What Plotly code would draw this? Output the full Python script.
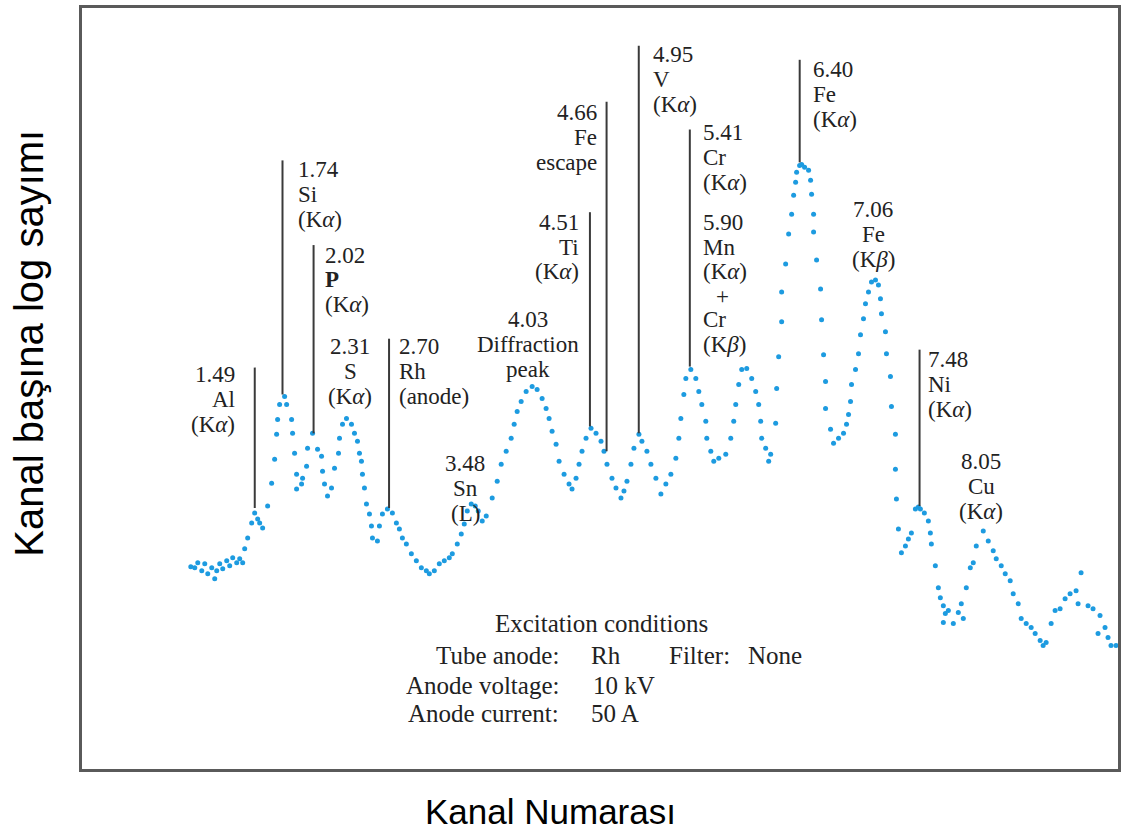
import plotly.graph_objects as go

# ---- spectrum: channel number vs relative log counts per channel ----
channel = [109,113,116,120,123,126,130,133,135,138,141,145,148,151,155,158,161,163,166,170,
           173,176,178,181,186,190,193,195,196,198,203,205,210,211,213,215,215,220,221,225,
           226,231,236,240,241,243,246,250,253,257,258,261,265,270,273,276,278,280,281,283,
           285,288,290,291,296,298,301,306,311,315,318,321,325,330,335,340,345,348,353,358,
           363,368,371,376,380,383,386,390,394,397,401,405,411,416,420,425,430,433,436,440,
           445,451,456,461,465,468,471,475,478,483,488,491,495,498,501,505,510,515,520,523,
           526,531,535,540,543,546,550,553,558,561,566,570,575,580,585,590,595,598,600,603,
           605,610,615,618,621,625,626,630,633,638,645,650,653,655,658,661,666,671,675,678,
           680,681,685,688,690,695,
           696,698,701,701,705,708,711,713,715,716,719,721,724,728,730,731,733,733,736,740,
           741,743,745,745,750,753,758,763,766,768,770,771,775,778,780,783,785,788,791,795,
           798,800,801,805,806,810,811,815,815,
           816,818,821,825,828,831,835,838,840,844,848,850,851,855,858,860,863,865,863,868,
           873,878,883,881,886,890,893,896,903,908,913,916,921,925,930,933,938,941,946,951,
           955,960,963,966,971,975,980,985,990,996,1001,998,1008,1013,1020,1018,1025,1028,1031,1036]
log_count = [203,202,207,199,206,196,202,191,199,206,201,209,204,212,207,211,207,221,232,247,
             257,251,247,242,264,287,311,336,351,366,374,366,351,337,317,296,281,286,292,304,
             322,337,321,314,299,286,274,282,302,317,332,346,352,346,337,329,317,309,296,282,
             266,256,244,232,229,244,256,261,257,247,241,232,226,216,209,202,199,196,199,206,
             209,212,216,226,236,246,259,266,264,259,249,254,272,289,306,319,332,346,359,369,
             379,384,381,372,362,352,339,326,309,296,286,281,292,306,319,332,342,337,329,319,
             306,292,282,272,279,289,306,322,336,329,319,306,292,276,286,296,312,332,352,376,
             392,401,392,379,366,349,332,319,309,312,316,332,349,366,386,401,402,392,379,366,
             349,332,322,309,316,347,
             382,414,449,479,507,537,557,576,589,599,606,607,604,601,591,577,557,539,511,482,
             451,416,389,362,341,327,332,337,346,356,369,386,401,417,436,452,467,479,489,491,
             486,472,457,439,417,394,364,336,301,
             271,241,217,224,231,237,261,263,261,257,249,237,226,204,182,172,164,156,147,159,
             146,157,151,166,182,202,207,224,239,229,219,211,204,196,189,176,166,151,146,142,
             136,129,124,127,146,159,161,171,176,179,197,166,164,161,154,136,142,132,124,124]

# ---- marked emission lines (keV) and the extent of their marker lines (log-count units) ----
line_energy = [1.49, 1.74, 2.02, 2.70, 4.51, 4.66, 4.95, 5.41, 6.40, 7.48]
line_top    = [403, 611, 526, 432, 559, 670, 726, 642, 712, 421]
line_bottom = [262, 376, 337, 262, 344, 319, 337, 404, 609, 264]

# energy calibration: channel = offset + gain * E
CAL_OFFSET, CAL_GAIN = 7.4, 111.2

KA = "(K<i>α</i>)"
KB = "(K<i>β</i>)"
# label text blocks: (lines, x channel, first line y, alignment)
labels = [
    (["1.49", "Al", KA], 155, 396, "right"),
    (["1.74", "Si", KA], 214, 602, "left"),
    (["2.02", "<b>P</b>", KA], 241, 516, "left"),
    (["2.31", "S", KA], 269, 424, "center"),
    (["2.70", "Rh", "(anode)"], 316, 424, "left"),
    (["3.48", "Sn", "(L)"], 384, 307, "center"),
    (["4.03", "Diffraction", "peak"], 447, 451, "center"),
    (["4.51", "Ti", KA], 500, 549, "right"),
    (["4.66", "Fe", "escape"], 518, 659, "right"),
    (["4.95", "V", KA], 570, 717, "left"),
    (["5.41", "Cr", KA], 620, 639, "left"),
    (["5.90", "Mn", KA], 620, 549, "left"),
    (["+"], 642, 474, "center"),
    (["Cr", KB], 620, 451, "left"),
    (["6.40", "Fe", KA], 730, 702, "left"),
    (["7.06", "Fe", KB], 793, 562, "center"),
    (["7.48", "Ni", KA], 846, 411, "left"),
    (["8.05", "Cu", KA], 901, 309, "center"),
]
LINE_STEP = 25

excitation = [
    ("Excitation conditions", 520, 146, "center"),
    ("Tube anode:", 480, 114, "right"),
    ("Rh", 508, 114, "left"),
    ("Filter:", 586, 114, "left"),
    ("None", 665, 114, "left"),
    ("Anode voltage:", 480, 84, "right"),
    ("10 kV", 510, 84, "left"),
    ("Anode current:", 480, 56, "right"),
    ("50 A", 508, 56, "left"),
]

SERIF = "Liberation Serif, Times New Roman, serif"
SANS = "Liberation Sans, Arial, sans-serif"

fig = go.Figure()
fig.add_trace(go.Scatter(
    x=channel, y=log_count, mode="markers",
    marker=dict(color="#1d9be0", size=5, line=dict(width=0)),
    hoverinfo="skip", showlegend=False))

for e, top, bot in zip(line_energy, line_top, line_bottom):
    cx = CAL_OFFSET + CAL_GAIN * e
    fig.add_shape(type="line", xref="x", yref="y", x0=cx, x1=cx, y0=bot, y1=top,
                  line=dict(color="#3a3a3a", width=2))

annotations = []
for lines, x, y0, align in labels:
    for i, t in enumerate(lines):
        annotations.append(dict(x=x, y=y0 - i * LINE_STEP, xref="x", yref="y", text=t,
                                showarrow=False, xanchor=align, yanchor="middle",
                                font=dict(family=SERIF, size=23, color="#222")))
for t, x, y, align in excitation:
    annotations.append(dict(x=x, y=y, xref="x", yref="y", text=t, showarrow=False,
                            xanchor=align, yanchor="middle",
                            font=dict(family=SERIF, size=25, color="#222")))

annotations.append(dict(x=0.452, y=-0.056, xref="paper", yref="paper", text="Kanal Numarası",
                        showarrow=False, xanchor="center", yanchor="middle",
                        font=dict(family=SANS, size=35, color="black")))
annotations.append(dict(x=-0.052, y=0.559, xref="paper", yref="paper",
                        text="Kanal başına log sayımı", textangle=-90,
                        showarrow=False, xanchor="center", yanchor="middle",
                        font=dict(family=SANS, size=40, color="black")))

axis_common = dict(showgrid=False, zeroline=False, showticklabels=False, ticks="",
                   showline=True, mirror=True, linecolor="#5a5a5a", linewidth=3)
fig.update_layout(
    width=1126, height=834,
    margin=dict(l=82, r=6, t=5, b=65),
    plot_bgcolor="white", paper_bgcolor="white",
    xaxis=dict(range=[0, 1038], **axis_common),
    yaxis=dict(range=[0, 764], **axis_common),
    annotations=annotations,
    showlegend=False,
)

fig.write_html("out.html")
